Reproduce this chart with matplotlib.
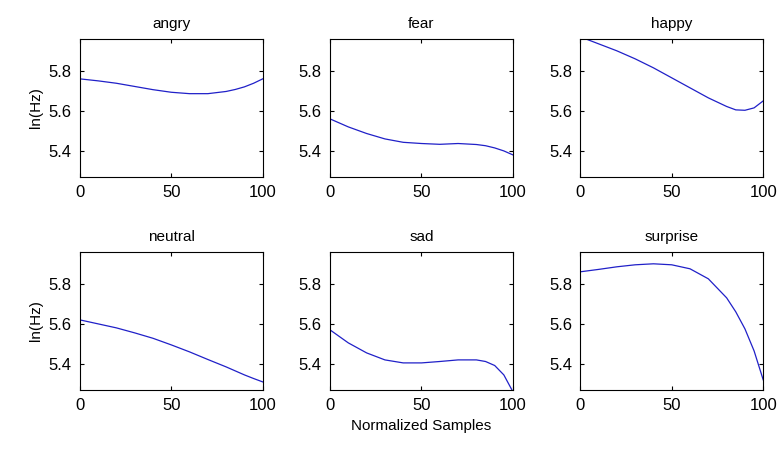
import numpy as np
import matplotlib
matplotlib.use('Agg')
import matplotlib.pyplot as plt

plt.rcParams['font.family'] = ['Liberation Sans', 'DejaVu Sans']

EMOCOES = ['angry', 'fear', 'happy', 'neutral', 'sad', 'surprise']
X = [0, 10, 20, 30, 40, 50, 60, 70, 80, 85, 90, 95, 100]
CURVAS = {
    'angry':    [5.760, 5.750, 5.738, 5.722, 5.706, 5.693, 5.686, 5.686, 5.697, 5.707, 5.720, 5.738, 5.760],
    'fear':     [5.560, 5.520, 5.487, 5.460, 5.443, 5.437, 5.433, 5.437, 5.432, 5.426, 5.415, 5.400, 5.380],
    'happy':    [5.970, 5.935, 5.900, 5.860, 5.815, 5.765, 5.715, 5.665, 5.622, 5.605, 5.603, 5.615, 5.650],
    'neutral':  [5.620, 5.600, 5.580, 5.555, 5.528, 5.495, 5.460, 5.422, 5.385, 5.365, 5.345, 5.327, 5.310],
    'sad':      [5.570, 5.505, 5.455, 5.420, 5.405, 5.405, 5.412, 5.420, 5.420, 5.412, 5.392, 5.345, 5.260],
    'surprise': [5.860, 5.872, 5.885, 5.895, 5.900, 5.895, 5.875, 5.825, 5.730, 5.660, 5.575, 5.465, 5.320],
}

fig = plt.figure(figsize=(7.82, 4.62), dpi=100)
lefts = [0.102, 0.422, 0.742]
bottoms = [0.617, 0.156]
for i, nome in enumerate(EMOCOES):
    lin, col = divmod(i, 3)
    ax = fig.add_axes([lefts[col], bottoms[lin], 0.234, 0.299])
    ax.plot(X, CURVAS[nome], color='#2020c8', linewidth=0.9)
    ax.set_xlim(0, 100)
    ax.set_ylim(5.27, 5.96)
    ax.set_xticks([0, 50, 100])
    ax.set_yticks([5.4, 5.6, 5.8])
    ax.tick_params(direction='in', labelsize=12, length=3, top=True, right=True, pad=6)
    ax.set_title(nome, fontsize=11, pad=8)
    if col == 0:
        ax.set_ylabel('ln(Hz)', fontsize=11)
    if lin == 1 and col == 1:
        ax.set_xlabel('Normalized Samples', fontsize=11)

fig.savefig('out.png', dpi=100)
